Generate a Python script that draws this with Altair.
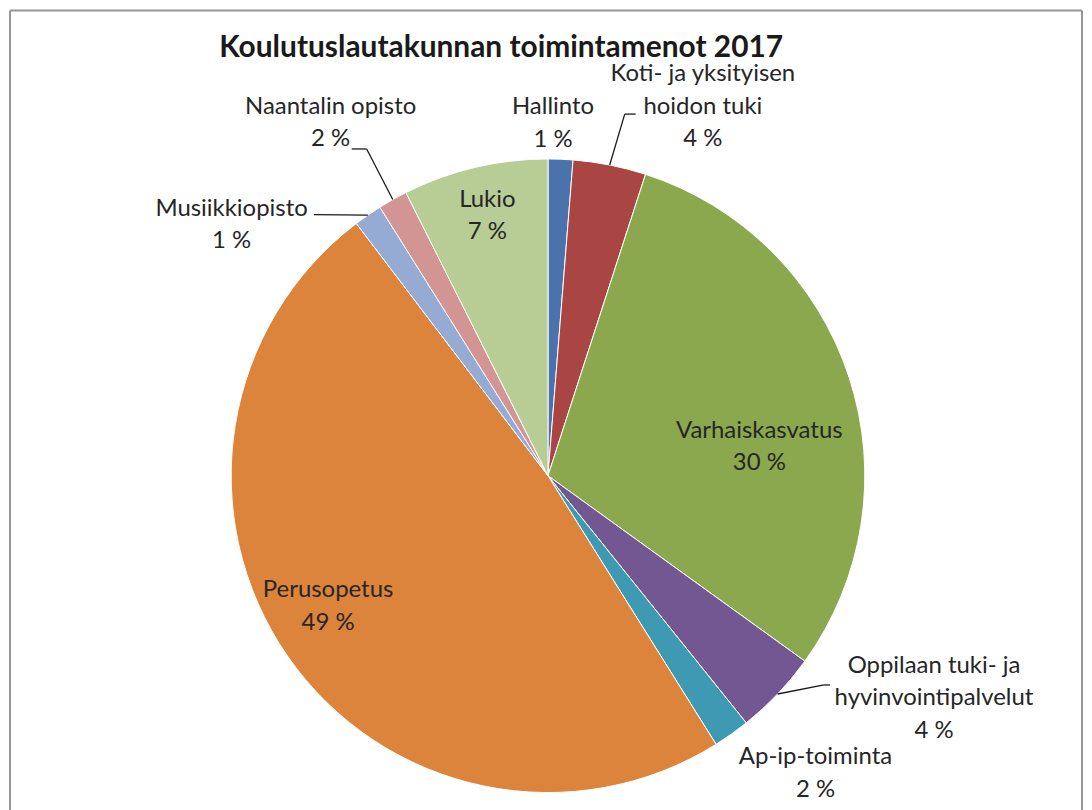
import math
import altair as alt
import pandas as pd

# ---- data (shares of total in %) ----
names = ["Hallinto", "Koti- ja yksityisen hoidon tuki", "Varhaiskasvatus",
         "Oppilaan tuki- ja hyvinvointipalvelut", "Ap-ip-toiminta", "Perusopetus",
         "Musiikkiopisto", "Naantalin opisto", "Lukio"]
label_names = ["Hallinto", "Koti- ja yksityisen\nhoidon tuki", "Varhaiskasvatus",
               "Oppilaan tuki- ja\nhyvinvointipalvelut", "Ap-ip-toiminta", "Perusopetus",
               "Musiikkiopisto", "Naantalin opisto", "Lukio"]
values = [1.26, 3.72, 29.97, 4.29, 1.86, 48.56, 1.44, 1.50, 7.40]
colors = ["#4A73AD", "#A94543", "#8BA84E", "#725792", "#3E9AB2", "#DC843B",
          "#96ABD4", "#D39494", "#B8CD96"]
title = "Koulutuslautakunnan toimintamenot 2017"

# ---- table ----
total = sum(values)
cum = 0.0
mids = []
for v in values:
    mids.append((cum + v / 2) / total * 2 * math.pi)
    cum += v
df = pd.DataFrame({
    "idx": list(range(len(names))),
    "name": names,
    "value": values,
    "mid": mids,
    "label": [f"{ln}\n{int(v / total * 100 + 0.5)} %" for ln, v in zip(label_names, values)],
})

# ---- layout ----
CX, CY, R = 540, 466, 318
W, H = 1076, 800
FONT = "Lato"
TXT = "#262626"

pie = alt.Chart(df).mark_arc(outerRadius=R, stroke="white", strokeWidth=1).encode(
    theta=alt.Theta("value:Q", stack=True),
    order=alt.Order("idx:Q"),
    color=alt.Color("name:N", scale=alt.Scale(domain=names, range=colors), legend=None),
    x=alt.value(CX), y=alt.value(CY),
)

# label placement: radius from centre, then nudge (first line sits on the anchor)
label_style = {
    "Hallinto": (354, -9, -16),
    "Koti- ja yksityisen hoidon tuki": (372, 83, -38),
    "Varhaiskasvatus": (200, 22, 17),
    "Oppilaan tuki- ja hyvinvointipalvelut": (380, 112, -71),
    "Ap-ip-toiminta": (360, 60, -11),
    "Perusopetus": (250, -15, -27),
    "Musiikkiopisto": (360, -113, 28),
    "Naantalin opisto": (380, -32, -39),
    "Lukio": (260, -1, -24),
}
text_layers = []
for nm, (rad, ddx, ddy) in label_style.items():
    text_layers.append(
        alt.Chart(df).transform_filter(alt.datum.name == nm).mark_text(
            radius=rad, dx=ddx, dy=ddy, font=FONT, fontSize=24, color=TXT,
            align="center", baseline="middle", lineBreak="\n", lineHeight=32.5,
        ).encode(
            theta=alt.Theta("mid:Q", scale=None),
            text="label:N",
            x=alt.value(CX), y=alt.value(CY),
        )
    )

# leader lines: start on the slice edge at its middle angle
def edge(i):
    return CX + R * math.sin(mids[i]), CY - R * math.cos(mids[i])

segs = []
ex, ey = edge(1)
segs += [(ex, ey, 617, 103), (617, 103, 628, 103)]
ex, ey = edge(7)
segs += [(ex, ey, 358, 138), (358, 138, 343, 138)]
ex, ey = edge(6)
segs += [(ex, ey, 305, 204)]
ex, ey = edge(3)
segs += [(ex, ey, 817, 676), (817, 676, 823, 676)]
lead_df = pd.DataFrame(segs, columns=["x", "y", "x2", "y2"])
leaders = alt.Chart(lead_df).mark_rule(color="#1a1a1a", strokeWidth=1.3).encode(
    x=alt.X("x:Q", scale=None), y=alt.Y("y:Q", scale=None),
    x2="x2:Q", y2="y2:Q",
)

# frame (top, left, right; bottom is off-screen)
frame_df = pd.DataFrame([(0, -1, W, -1), (0, -1, 0, H + 20), (W, -1, W, H + 20)],
                        columns=["x", "y", "x2", "y2"])
frame = alt.Chart(frame_df).mark_rule(color="#969696", strokeWidth=2).encode(
    x=alt.X("x:Q", scale=None), y=alt.Y("y:Q", scale=None),
    x2="x2:Q", y2="y2:Q",
)

title_mark = alt.Chart(pd.DataFrame({"t": [title]})).mark_text(
    font=FONT, fontSize=30, fontWeight="bold", color="#1a1a1a",
    align="center", baseline="alphabetic",
).encode(text="t:N", x=alt.value(493), y=alt.value(46))

chart = alt.layer(frame, pie, leaders, title_mark, *text_layers).properties(
    width=W, height=H, autosize="none",
    padding={"left": 2, "top": 2, "right": 2, "bottom": 0},
).configure_view(stroke=None)

chart.save("out.html", embed_options={"renderer": "svg", "actions": False})
